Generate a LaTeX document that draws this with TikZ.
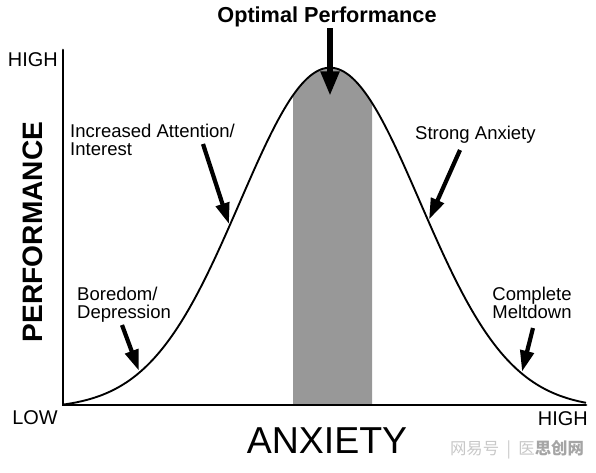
\documentclass[tikz,border=0pt]{standalone}
\usepackage{fontspec}
\setmainfont{Liberation Sans}
\newfontfamily\cjk{Noto Sans CJK SC}
\usetikzlibrary{arrows.meta, positioning}

\definecolor{bandgray}{RGB}{152,152,152}
\definecolor{marklight}{RGB}{200,200,200}
\definecolor{markdark}{RGB}{165,165,165}

\begin{document}
\begin{tikzpicture}[
  x=0.03cm, y=-0.03cm,
  declare function={perf(\x)=405-341*(exp(-0.5*((\x-330)/90)*((\x-330)/90))-0.011);},
  lbl/.style={font=\fontsize{15.8}{15.3}\selectfont, inner sep=0pt},
  tick/.style={font=\fontsize{17}{17}\selectfont, inner sep=0pt},
  arr/.style={-{Triangle[length=18pt, width=11.5pt]}, line width=3.6pt},
  axis/.style={line width=2.3pt, line cap=round},
  curve/.style={line width=1.6pt}
]
\useasboundingbox (0,0) rectangle (596,472);

% optimal band
\fill[bandgray] plot[domain=293:372, samples=40] (\x,{perf(\x)}) -- (372,405) -- (293,405) -- cycle;

% curve and axes
\draw[curve] plot[domain=63:586, samples=200, smooth] (\x,{perf(\x)});
\coordinate (origin) at (63,405);
\coordinate (ytop) at (63,50);
\coordinate (xend) at (586,405);
\draw[axis] (ytop) -- (origin) -- (xend);

% axis texts
\node[tick, anchor=east] (yhigh) at (58,60) {HIGH};
\node[tick, anchor=east] (low) at (58,418) {LOW};
\node[tick, anchor=east] (xhigh) at (588,419) {HIGH};
\node[font=\fontsize{32}{32}\selectfont, inner sep=0pt, anchor=base] (anxiety) at (327,453) {ANXIETY};
\node[font=\bfseries\fontsize{24}{24}\selectfont, inner sep=0pt, anchor=base, rotate=90] (performance) at (42,232) {PERFORMANCE};

% labels
\node[font=\bfseries\fontsize{18.5}{18.5}\selectfont, inner sep=0pt, anchor=base] (optimal) at (327,22) {Optimal Performance};
\node[lbl, align=left, anchor=north west] (attention) at (70,124) {Increased Attention/\\Interest};
\node[lbl, align=left, anchor=north west] (boredom) at (77,287) {Boredom/\\Depression};
\node[lbl, anchor=north west] (strong) at (415,126) {Strong Anxiety};
\node[lbl, align=center, anchor=north] (meltdown) at (532,287) {Complete\\Meltdown};

% arrows
\coordinate (optimal start) at (330,28);
\coordinate (optimal tip) at (330,96);
\coordinate (attention start) at (203,144);
\coordinate (attention tip) at (229,{perf(229)-3});
\coordinate (boredom start) at (122,325);
\coordinate (boredom tip) at (139,{perf(139)-2});
\coordinate (strong start) at (460,150);
\coordinate (strong tip) at (429,{perf(429)-3});
\coordinate (meltdown start) at (533,328);
\coordinate (meltdown tip) at (522,{perf(522)-2});
\draw[arr, line width=5.5pt, -{Triangle[length=21pt, width=15pt]}] (optimal start) -- (optimal tip);
\draw[arr] (attention start) -- (attention tip);
\draw[arr] (boredom start) -- (boredom tip);
\draw[arr] (strong start) -- (strong tip);
\draw[arr] (meltdown start) -- (meltdown tip);

% watermark
\node[font=\cjk\fontsize{14}{14}\selectfont, inner sep=0pt, text=marklight] (mark) at (517,450) {网易号\ \ |\ \ 医\textcolor{markdark}{\bfseries 思创网}};

\end{tikzpicture}
\end{document}
